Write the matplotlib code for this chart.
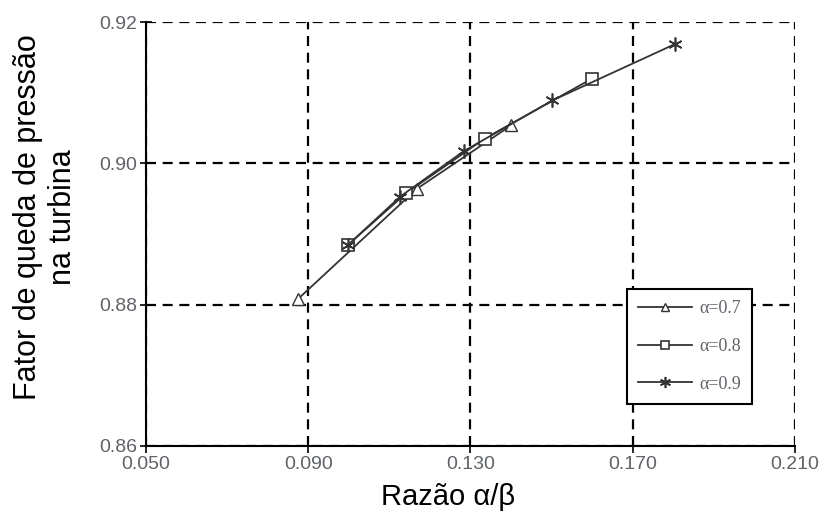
import matplotlib
matplotlib.use("Agg")
import matplotlib.pyplot as plt

# turbine pressure-drop factor vs. alpha/beta ratio, one curve per alpha
x_a07 = [0.0875, 0.1168, 0.1401]
y_a07 = [0.8808, 0.8964, 0.9054]

x_a08 = [0.0999, 0.1142, 0.1335, 0.1600]
y_a08 = [0.8885, 0.8958, 0.9035, 0.9120]

x_a09 = [0.0999, 0.1127, 0.1283, 0.1502, 0.1805]
y_a09 = [0.8885, 0.8953, 0.9017, 0.9089, 0.9169]

xticks = [0.05, 0.09, 0.13, 0.17, 0.21]
yticks = [0.86, 0.88, 0.90, 0.92]

plt.rcParams["font.family"] = ["Liberation Sans", "DejaVu Sans"]

fig = plt.figure(figsize=(8.29, 5.12), dpi=100)
ax = fig.add_axes([0.176, 0.129, 0.783, 0.828])

lc = "#333333"
ax.plot(x_a07, y_a07, color=lc, lw=1.3, marker="^", ms=8, mfc="white",
        mec=lc, mew=1.0, label="α=0.7", zorder=3)
ax.plot(x_a08, y_a08, color=lc, lw=1.3, marker="s", ms=8, mfc="white",
        mec=lc, mew=1.2, label="α=0.8", zorder=3)
ax.plot(x_a09, y_a09, color=lc, lw=1.3, marker=(6, 2, 0), ms=10,
        mec=lc, mew=1.2, label="α=0.9", zorder=3)

ax.set_xlim(0.05, 0.21)
ax.set_ylim(0.86, 0.92)
ax.set_xticks(xticks)
ax.set_yticks(yticks)
ax.set_xticklabels([f"{v:.3f}" for v in xticks])
ax.set_yticklabels([f"{v:.2f}" for v in yticks])
ax.tick_params(axis="both", colors="black", labelcolor="#5f6368",
               labelsize=14, width=1.2)
ax.tick_params(axis="y", direction="inout", length=9, pad=2)
ax.tick_params(axis="x", direction="out", length=5, pad=2)

ax.grid(True, color="black", ls=(0, (4.5, 3)), lw=1.6)
ax.set_axisbelow(True)
for side in ("top", "right"):
    ax.spines[side].set_visible(False)
for side in ("left", "bottom"):
    ax.spines[side].set_linewidth(1.5)

ax.set_xlabel("Razão α/β", fontsize=21)
ax.set_ylabel("Fator de queda de pressão\nna turbina", fontsize=22,
              linespacing=1.25)
ax.xaxis.set_label_coords(0.465, -0.088)
ax.yaxis.set_label_coords(-0.104, 0.54)

leg = ax.legend(loc="lower left", bbox_to_anchor=(0.741, 0.10),
                prop={"family": "Liberation Serif", "size": 13},
                frameon=True, fancybox=False, edgecolor="black",
                framealpha=1, handlelength=3.0, labelspacing=1.15,
                borderpad=0.6, handletextpad=0.4, borderaxespad=0,
                markerscale=0.8)
leg.get_frame().set_linewidth(1.5)
for t in leg.get_texts():
    t.set_color("#5f6368")

fig.savefig("out.png", dpi=100)
